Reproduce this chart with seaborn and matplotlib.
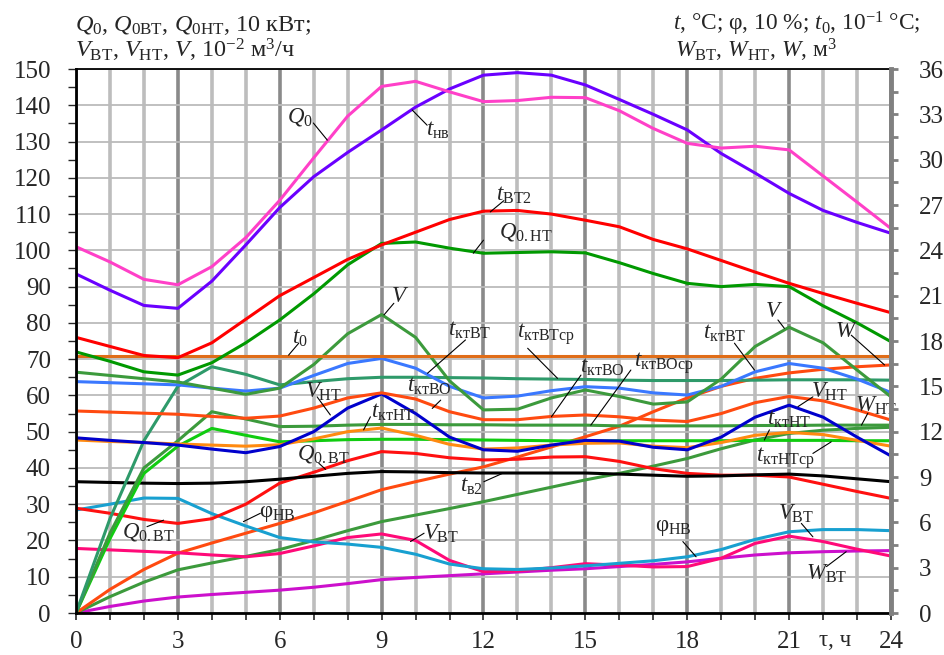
import matplotlib
matplotlib.use('Agg')
import matplotlib.pyplot as plt
from matplotlib.ticker import MultipleLocator
import seaborn as sns

# hours of the day
hours = list(range(25))

# left-axis series (10 kW, 10^-2 m3/h) and right-axis series, all read in left-axis units
q0 = [101, 96.8, 92, 90.5, 95.5, 103.5, 113.8, 125.5, 137, 145.2, 146.6, 143.7, 141,
      141.3, 142.2, 142.1, 138.5, 133.6, 129.5, 128.2, 128.7, 127.7, 120.5, 113.3, 106]
t_nv = [93.5, 89, 84.8, 84, 91.5, 101.5, 111.8, 120.3, 127, 133.2, 139.5, 144.5, 148.3,
        149, 148.3, 145.6, 141.6, 137.5, 133.2, 126.7, 121.3, 115.7, 111, 107.7, 104.7]
t_vt2 = [76, 73.5, 71, 70.4, 74.5, 81, 87.5, 92.5, 97.5, 101.5, 105, 108.5, 110.8,
         111, 110, 108.3, 106.5, 103, 100.4, 97.2, 94, 90.9, 88.1, 85.4, 82.8]
q0_nt = [72, 69.4, 66.5, 65.6, 69, 74.5, 80.8, 88, 96, 101.9, 102.3, 100.6, 99.2,
         99.4, 99.6, 99.3, 96.6, 93.6, 90.9, 90, 90.6, 90, 84.7, 80, 74.8]
t0_hours = [0, 24]
t0 = [70.9, 70.9]
v = [66.4, 65.5, 64.6, 63.7, 62, 60.3, 62, 68.5, 77, 82.3, 76, 64, 56,
     56.2, 59.3, 61.5, 59.7, 57.6, 58.2, 64.5, 73.5, 78.8, 74.5, 67, 59.6]
v_nt = [48.3, 47.6, 47, 46.3, 45.2, 44.2, 45.9, 50, 56.5, 60.4, 55, 48.5, 45,
        44.6, 46.3, 47.6, 47.4, 45.7, 45, 48.5, 54, 57.3, 54, 48.5, 43.3]
v_vt = [17.8, 17.4, 17, 16.6, 16, 15.5, 16.4, 18.5, 20.8, 21.8, 20, 14.5, 11.4,
        11.6, 12.5, 13.6, 13.2, 12.7, 12.8, 15.1, 19.2, 21.2, 19.7, 17.6, 15.7]
t_kt_vt = [63.8, 63.5, 63.2, 62.9, 62, 61.2, 62, 65.5, 68.8, 70.2, 67.5, 62.5, 59.3,
           59.8, 61.3, 62.4, 62, 60.7, 60.1, 62.5, 66.5, 68.8, 67.5, 64.5, 60.8]
t_kt_vo = [55.7, 55.4, 55.1, 54.8, 54.2, 53.7, 54.3, 56.5, 59.3, 60.7, 59, 55.5, 53.3,
           53.3, 54.2, 54.6, 54.1, 53.2, 52.8, 55, 58, 59.7, 58.5, 56, 53.2]
t_kt_nt = [47.7, 47.3, 47, 46.6, 46.3, 46, 46.4, 48, 50, 51, 49, 46.5, 45.2,
           45.5, 46.3, 46.8, 46.9, 46, 45.6, 47, 49, 49.8, 49.2, 47.6, 46]
t_v2 = [36.2, 36, 35.8, 35.7, 35.8, 36.2, 36.9, 37.7, 38.5, 39, 38.9, 38.7, 38.6,
        38.6, 38.6, 38.6, 38.3, 38, 37.7, 37.8, 38.1, 38.3, 37.8, 37, 36.2]
phi_nv = [28.4, 30, 31.7, 31.6, 27.4, 24, 20.8, 19.6, 19, 18.1, 16.2, 13.5, 12.2,
          12, 12.4, 13, 13.7, 14.4, 15.5, 17.5, 20.3, 22.4, 23, 23, 22.7]
q0_vt = [28.9, 27.5, 25.8, 24.7, 26, 30, 35.8, 38.8, 42, 44.5, 44, 42.8, 42.2,
         42.4, 43, 43.1, 41.8, 39.8, 38.5, 38, 38, 37.5, 35.5, 33.5, 31.6]
t_kt_vt_sr = [0, 26, 47.5, 62.5, 67.9, 65.8, 62.9, 63.8, 64.6, 65, 65, 64.9, 64.8,
              64.6, 64.5, 64.4, 64.2, 64.1, 64.1, 64.1, 64.2, 64.3, 64.3, 64.3, 64.2]
t_kt_vo_sr = [0, 22, 40, 47.5, 55.5, 53.5, 51.4, 51.5, 51.8, 52, 52, 51.9, 51.9,
              51.8, 51.8, 51.8, 51.6, 51.6, 51.6, 51.6, 51.7, 51.7, 51.8, 51.8, 51.8]
t_kt_nt_sr = [0, 20.5, 38.5, 46, 50.9, 49, 47.2, 47.5, 47.8, 47.9, 47.9, 47.8, 47.7,
              47.6, 47.5, 47.4, 47.5, 47.5, 47.5, 47.5, 47.6, 47.6, 47.6, 47.5, 47.5]
w = [0, 6.5, 12, 16.5, 19.3, 22, 24.7, 27.6, 30.8, 34, 36.2, 38.3, 40.3,
     43, 45.8, 48.6, 51.5, 55.5, 59.3, 62.5, 64.7, 66.2, 67.2, 67.9, 68.4]
w_nt = [0, 4.5, 8.5, 11.9, 13.8, 15.6, 17.5, 20, 22.7, 25.2, 27, 28.8, 30.7,
        32.7, 34.7, 36.7, 38.5, 40.5, 42.6, 45.3, 47.7, 49.5, 50.4, 50.9, 51.2]
w_vt = [0, 1.8, 3.3, 4.4, 5.1, 5.7, 6.3, 7.1, 8.1, 9.2, 9.8, 10.3, 10.8,
        11.3, 11.8, 12.2, 12.8, 13.4, 14.1, 15.1, 16, 16.6, 16.9, 17.1, 17.2]

x_ticks = [0, 3, 6, 9, 12, 15, 18, 21, 24]


def main():
    sns.set_style('white')
    plt.rcParams['font.family'] = ['Liberation Serif', 'DejaVu Serif']
    plt.rcParams['mathtext.fontset'] = 'custom'
    plt.rcParams['mathtext.rm'] = 'Liberation Serif'
    plt.rcParams['mathtext.it'] = 'Liberation Serif:italic'
    plt.rcParams['mathtext.bf'] = 'Liberation Serif:bold'

    fig = plt.figure(figsize=(9.45, 6.55), dpi=100)
    ax = fig.add_axes([76 / 945, 42 / 655, 815 / 945, 544 / 655])

    series = [
        (hours, w_vt, '#cc10cc'),
        (hours, w_nt, '#3c9a3c'),
        (hours, w, '#ff4a10'),
        (hours, v_vt, '#ff0a78'),
        (hours, phi_nv, '#18a0d0'),
        (hours, q0_vt, '#ff1010'),
        (hours, t_v2, '#000000'),
        (hours, t_kt_nt_sr, '#10cc10'),
        (hours, t_kt_vo_sr, '#3c9a3c'),
        (hours, t_kt_vt_sr, '#2e9a6a'),
        (hours, t_kt_nt, '#ff8a10'),
        (hours, v_nt, '#0000cc'),
        (hours, t_kt_vo, '#ff4a10'),
        (hours, t_kt_vt, '#3a78ff'),
        (hours, v, '#3c9a3c'),
        (t0_hours, t0, '#e06d18'),
        (hours, q0_nt, '#009900'),
        (hours, t_vt2, '#ff0000'),
        (hours, t_nv, '#6a00ff'),
        (hours, q0, '#ff40c8'),
    ]
    for xs, ys, col in series:
        sns.lineplot(x=xs, y=ys, ax=ax, color=col, linewidth=2.2, legend=False)

    ax.set_xlim(0, 24)
    ax.set_ylim(0, 150)
    ax.set_xticks(x_ticks)
    ax.xaxis.set_minor_locator(MultipleLocator(1))
    ax.yaxis.set_major_locator(MultipleLocator(10))
    ax.yaxis.set_minor_locator(MultipleLocator(5))
    ax.set_axisbelow(True)
    ax.grid(which='major', axis='x', color='#8a8a8a', linewidth=2.6)
    ax.grid(which='minor', axis='x', color='#bdbdbd', linewidth=2.6)
    ax.grid(which='major', axis='y', color='#bbbbbb', linewidth=1.3)
    ax.tick_params(axis='x', which='both', direction='out', length=5, width=1.2,
                   pad=8, labelsize=18, bottom=True)
    ax.tick_params(axis='y', which='both', direction='out', length=6, width=1,
                   pad=12, labelsize=18, left=True)
    for side in ['left', 'bottom']:
        ax.spines[side].set_linewidth(2)
        ax.spines[side].set_color('black')
    ax.spines['top'].set_linewidth(1.3)
    ax.spines['top'].set_color('black')
    ax.spines['right'].set_visible(False)
    ax.set_xlabel('')
    ax.set_ylabel('')

    ax2 = ax.twinx()
    ax2.set_ylim(0, 36)
    ax2.yaxis.set_major_locator(MultipleLocator(3))
    ax2.yaxis.set_minor_locator(MultipleLocator(1.5))
    ax2.tick_params(axis='y', which='both', direction='out', length=5, width=2,
                    color='#808080', pad=15, labelsize=18)
    ax2.grid(False)
    for side in ['left', 'top', 'bottom']:
        ax2.spines[side].set_visible(False)
    ax2.spines['right'].set_linewidth(3.5)
    ax2.spines['right'].set_color('#808080')

    # curve labels: (text, text x, text y, leader start, leader end)
    labels = [
        (r'$Q_0$', 6.6, 136.8, (6.99, 135.1), (7.4, 130.4)),
        (r'$t_{\mathrm{нв}}$', 10.65, 133.0, (10.34, 134.5), (9.9, 138.7)),
        (r'$t_{\mathrm{ВТ2}}$', 12.9, 115.2, (12.6, 113.7), (12.2, 110.6)),
        (r'$Q_{\mathrm{0.НТ}}$', 13.25, 105, (12.0, 102.8), (11.7, 99.2)),
        (r'$V$', 9.55, 87.4, (9.36, 85.4), (9.07, 82.2)),
        (r'$t_{\mathrm{ктВТ}}$', 11.6, 78, (11.47, 75.3), (10.35, 66.1)),
        (r'$t_{\mathrm{ктВТср}}$', 13.85, 76.9, (13.3, 73), (14.18, 64.7)),
        (r'$t_{\mathrm{ктВО}}$', 10.4, 62.6, (10.74, 58.7), (10.49, 56.4)),
        (r'$t_{\mathrm{ктНТ}}$', 9.35, 55.4, (8.67, 54.1), (8.47, 50.5)),
        (r'$t_{\mathrm{ктВО}}$', 15.5, 67.8, (14.87, 65.6), (14.0, 54.1)),
        (r'$t_{\mathrm{ктВОср}}$', 17.3, 68.9, (16.34, 67), (15.16, 51.8)),
        (r'$t_{\mathrm{ктВТ}}$', 19.1, 77.2, (19.39, 74.4), (19.98, 67)),
        (r'$V$', 20.55, 83, (20.67, 80.8), (20.86, 78.5)),
        (r'$W$', 22.7, 77.7, (22.83, 76.6), (23.81, 68.4)),
        (r'$V_{\mathrm{НТ}}$', 22.2, 61, (21.7, 59.6), (21.26, 56.9)),
        (r'$W_{\mathrm{НТ}}$', 23.55, 57, (23.32, 55.1), (23.13, 51.8)),
        (r'$t_{\mathrm{ктНТ}}$', 21.0, 53.5, (20.42, 50.5), (20.27, 47.7)),
        (r'$V_{\mathrm{НТ}}$', 7.3, 61, (7.1, 59.6), (7.49, 54.6)),
        (r'$Q_{\mathrm{0.ВТ}}$', 7.3, 43.8, (7.15, 41.3), (7.35, 39.6)),
        (r'$Q_{\mathrm{0.ВТ}}$', 2.15, 22.3, (2.09, 23.8), (2.58, 25.6)),
        (r'φ$_{\mathrm{НВ}}$', 5.93, 27.3, (5.43, 27.5), (4.93, 25.2)),
        (r'φ$_{\mathrm{НВ}}$', 17.6, 23.7, (17.87, 19.7), (18.26, 15.5)),
        (r'$V_{\mathrm{ВТ}}$', 10.75, 21.8, (10.25, 22), (9.85, 19.7)),
        (r'$V_{\mathrm{ВТ}}$', 21.2, 27.3, (21.36, 24.7), (21.7, 21)),
        (r'$W_{\mathrm{ВТ}}$', 22.1, 10.8, (22.1, 12.8), (22.68, 16.9)),
        (r'$t_{\mathrm{в2}}$', 11.65, 35, (12.01, 36.2), (12.56, 38.5)),
        (r'$t_{\mathrm{ктНТср}}$', 20.9, 42.7, (21.7, 44), (22.24, 47.2)),
        (r'$t_0$', 6.6, 75.8, (6.56, 74.4), (6.26, 71.1)),
    ]
    for txt, tx, ty, (sx, sy), (ex, ey) in labels:
        ax.plot([sx, ex], [sy, ey], color='black', linewidth=0.8, zorder=5)
        ax.text(tx, ty, txt, fontsize=16.5, ha='center', va='center', zorder=6)

    ax.text(22.35, -7.6, 'τ, ч', fontsize=16.5, ha='center', va='center', clip_on=False)

    # axis titles in two lines on each side
    fig.text(75 / 945, 1 - 31 / 655,
             r'$Q_0$, $Q_{\mathrm{0ВТ}}$, $Q_{\mathrm{0НТ}}$, 10 кВт;',
             fontsize=17.5, ha='left', va='baseline')
    fig.text(75 / 945, 1 - 58 / 655,
             r'$V_{\mathrm{ВТ}}$, $V_{\mathrm{НТ}}$, $V$, 10$^{-2}$ м$^3$/ч',
             fontsize=17.5, ha='left', va='baseline')
    fig.text(673 / 945, 1 - 31 / 655,
             r'$t$, °C; φ, 10 %; $t_0$, 10$^{-1}$ °C;',
             fontsize=16.8, ha='left', va='baseline')
    fig.text(675 / 945, 1 - 58 / 655,
             r'$W_{\mathrm{ВТ}}$, $W_{\mathrm{НТ}}$, $W$, м$^3$',
             fontsize=16.8, ha='left', va='baseline')

    fig.savefig('out.png', dpi=100)


if __name__ == '__main__':
    main()
